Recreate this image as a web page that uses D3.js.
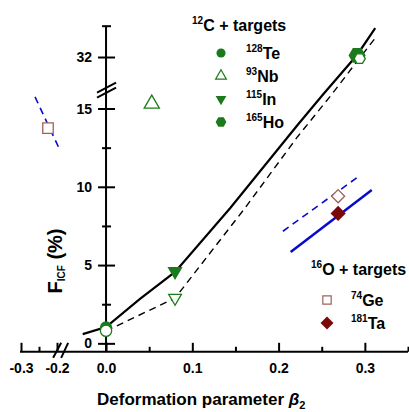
<!DOCTYPE html>
<html>
<head>
<meta charset="utf-8">
<script src="https://d3js.org/d3.v7.min.js"></script>
<style>
    body { margin: 0; background: white; }
    svg { display: block; font-family: "Liberation Sans", Arial, sans-serif; }
    text { font-weight: bold; fill: black; }
</style>
</head>
<body>
<svg width="409" height="412"></svg>
<script>
// 12C + targets (filled = one set, open = the other)
var c12Mass = ["128", "93", "115", "165"];
var c12Names = ["Te", "Nb", "In", "Ho"];
var c12Beta = [0.0, 0.053, 0.08, 0.291];
var c12F = [1.02, null, 4.6, 32.1];
var c12BetaOpen = [0.0, 0.053, 0.08, 0.294];
var c12FOpen = [0.8, 15.3, 2.9, 31.9];

// 16O + targets
var o16Mass = ["74", "181"];
var o16Names = ["Ge", "Ta"];
var o16Beta = [0.269, 0.269];
var o16F = [9.4, 8.3];
var geNegBeta = [-0.225];
var geNegF = [13.75];

// systematics curves
var solidBeta = [-0.027, 0.0, 0.039, 0.08, 0.144, 0.222, 0.251, 0.291, 0.312];
var solidF = [0.59, 1.04, 2.83, 4.56, 8.65, 13.95, 15.86, 32.13, 33.85];
var dashBeta = [0.0, 0.08, 0.161, 0.222, 0.261, 0.294, 0.313];
var dashF = [0.79, 2.89, 8.64, 13.2, 15.86, 31.94, 33.28];
var taLineBeta = [0.214, 0.308];
var taLineF = [5.83, 9.8];
var geLineBeta = [0.205, 0.292];
var geLineF = [7.16, 10.63];
var geNegLineBeta = [-0.261, -0.192];
var geNegLineF = [15.74, 12.35];

// ticks
var xMajor = [-0.3, -0.2, 0.0, 0.1, 0.2, 0.3];
var xMinor = [-0.25, 0.05, 0.15, 0.25, 0.35];
var yMajor = [0, 5, 10, 15, 32];
var yMinor = [2.5, 7.5, 12.5, 34];

var green = "#1b7a1b", brown = "#a0605a", darkRed = "#7a0808", blue = "#0a0acc";

var svg = d3.select("svg");

// broken axes: piecewise scales
var x = d3.scaleLinear().domain([-0.3, -0.185, -0.05, 0.35]).range([21, 62.4, 62.9, 408]);
var y = d3.scaleLinear().domain([-0.54, 16.1, 29.9, 34]).range([351.8, 91.3, 89.9, 25.7]);

var x0 = x(0), y0 = y(-0.54);

var symbolHex = {
    draw: function (ctx, size) {
        var r = Math.sqrt(size / (1.5 * Math.sqrt(3)));
        for (var i = 0; i < 6; i++) {
            var a = Math.PI / 3 * i;
            if (i === 0) ctx.moveTo(r * Math.cos(a), r * Math.sin(a));
            else ctx.lineTo(r * Math.cos(a), r * Math.sin(a));
        }
        ctx.closePath();
    }
};

function styleAxis (g) {
    g.select(".domain").remove();
    g.attr("font-size", 14)
        .attr("font-family", "Liberation Sans, Arial, sans-serif");
    g.selectAll("line").attr("stroke-width", 2);
}

// axis lines
svg.append("line").attr("x1", x(-0.3) - 1).attr("x2", x(0.35))
    .attr("y1", y0).attr("y2", y0).attr("stroke", "black").attr("stroke-width", 2);
svg.append("line").attr("x1", x0).attr("x2", x0)
    .attr("y1", y(34)).attr("y2", y0).attr("stroke", "black").attr("stroke-width", 2);

svg.append("g").attr("transform", "translate(0," + y0 + ")")
    .call(d3.axisBottom(x).tickValues(xMajor).tickSize(-9).tickPadding(11)
        .tickFormat(function (d) { return d.toFixed(1); }))
    .call(styleAxis);
svg.append("g").attr("transform", "translate(0," + y0 + ")")
    .call(d3.axisBottom(x).tickValues(xMinor).tickSize(-5).tickFormat(""))
    .call(styleAxis);

svg.append("g").attr("transform", "translate(" + x0 + ",0)")
    .call(d3.axisLeft(y).tickValues(yMajor).tickSize(8).tickPadding(6))
    .call(styleAxis);
svg.append("g").attr("transform", "translate(" + x0 + ",0)")
    .call(d3.axisRight(y).tickValues(yMajor).tickSize(9).tickFormat(""))
    .call(styleAxis);
svg.append("g").attr("transform", "translate(" + x0 + ",0)")
    .call(d3.axisLeft(y).tickValues(yMinor).tickSize(4).tickFormat(""))
    .call(styleAxis);
svg.append("g").attr("transform", "translate(" + x0 + ",0)")
    .call(d3.axisRight(y).tickValues(yMinor).tickSize(5).tickFormat(""))
    .call(styleAxis);

// break marks
var yb = (y(16.1) + y(29.9)) / 2;
var xb = (x(-0.185) + x(-0.05)) / 2 - 1.5;
var brk = svg.append("g").attr("stroke", "black").attr("stroke-width", 2);
[[-9, 7, 10, -3], [-9, 2, 10, -8]].forEach(function (s) {
    brk.append("line").attr("x1", x0 + s[0]).attr("y1", yb + s[1])
        .attr("x2", x0 + s[2]).attr("y2", yb + s[3]);
});
[[-8, 6, 0, -9], [0, 6, 7, -9]].forEach(function (s) {
    brk.append("line").attr("x1", xb + s[0]).attr("y1", y0 + s[1])
        .attr("x2", xb + s[2]).attr("y2", y0 + s[3]);
});

// curves
var line = d3.line().x(function (d) { return x(d[0]); }).y(function (d) { return y(d[1]); });

svg.append("path").datum(d3.zip(solidBeta, solidF)).attr("d", line)
    .attr("fill", "none").attr("stroke", "black").attr("stroke-width", 2.2);
svg.append("path").datum(d3.zip(dashBeta, dashF)).attr("d", line)
    .attr("fill", "none").attr("stroke", "black").attr("stroke-width", 1.4)
    .attr("stroke-dasharray", "7,5");
svg.append("path").datum(d3.zip(taLineBeta, taLineF)).attr("d", line)
    .attr("fill", "none").attr("stroke", blue).attr("stroke-width", 2.5);
svg.append("path").datum(d3.zip(geLineBeta, geLineF)).attr("d", line)
    .attr("fill", "none").attr("stroke", blue).attr("stroke-width", 1.6)
    .attr("stroke-dasharray", "7,5");
svg.append("path").datum(d3.zip(geNegLineBeta, geNegLineF)).attr("d", line)
    .attr("fill", "none").attr("stroke", blue).attr("stroke-width", 1.6)
    .attr("stroke-dasharray", "7,5");

// marker styles per target
var c12Sym = [d3.symbolCircle, d3.symbolTriangle, d3.symbolTriangle, symbolHex];
var c12Rot = [0, 0, 180, 0];
var c12Size = [115, 100, 100, 190];
var c12SizeOpen = [100, 100, 70, 80];
var c12LegSize = [65, 50, 50, 75];

// filled 12C points
svg.append("g").selectAll("path")
    .data(d3.range(c12Beta.length).filter(function (i) { return c12F[i] !== null; }))
    .join("path")
    .attr("d", function (i) { return d3.symbol().type(c12Sym[i]).size(c12Size[i])(); })
    .attr("transform", function (i) {
        return "translate(" + x(c12Beta[i]) + "," + y(c12F[i]) + ") rotate(" + c12Rot[i] + ")";
    })
    .attr("fill", green);

// open 12C points
svg.append("g").selectAll("path")
    .data(d3.range(c12BetaOpen.length))
    .join("path")
    .attr("d", function (i) { return d3.symbol().type(c12Sym[i]).size(c12SizeOpen[i])(); })
    .attr("transform", function (i) {
        return "translate(" + x(c12BetaOpen[i]) + "," + y(c12FOpen[i]) + ") rotate(" + c12Rot[i] + ")";
    })
    .attr("fill", "white").attr("stroke", green).attr("stroke-width", 1.3);

// 16O points
svg.append("path")
    .attr("d", d3.symbol().type(d3.symbolSquare).size(110)())
    .attr("transform", "translate(" + x(geNegBeta[0]) + "," + y(geNegF[0]) + ")")
    .attr("fill", "white").attr("stroke", brown).attr("stroke-width", 1.3);
svg.append("path")
    .attr("d", d3.symbol().type(d3.symbolSquare).size(85)())
    .attr("transform", "translate(" + x(o16Beta[0]) + "," + y(o16F[0]) + ") rotate(45)")
    .attr("fill", "white").attr("stroke", brown).attr("stroke-width", 1.3);
svg.append("path")
    .attr("d", d3.symbol().type(d3.symbolSquare).size(115)())
    .attr("transform", "translate(" + x(o16Beta[1]) + "," + y(o16F[1]) + ") rotate(45)")
    .attr("fill", darkRed);

// legend 12C
function isotope (g, px, py, mass, name, big, small) {
    var t = g.append("text").attr("x", px).attr("y", py);
    t.append("tspan").attr("font-size", small).attr("dy", -7).text(mass);
    t.append("tspan").attr("font-size", big).attr("dy", 7).text(name);
    return t;
}

var leg1 = svg.append("g");
isotope(leg1, 192, 31, "12", "C + targets", 16, 10);
c12Names.forEach(function (n, i) {
    var cy = 53 + i * 23;
    leg1.append("path")
        .attr("d", d3.symbol().type(c12Sym[i]).size(c12LegSize[i])())
        .attr("transform", "translate(221," + cy + ") rotate(" + c12Rot[i] + ")")
        .attr("fill", i === 1 ? "white" : green)
        .attr("stroke", i === 1 ? green : "none").attr("stroke-width", 1.2);
    isotope(leg1, 246, cy + 6, c12Mass[i], n, 16, 10);
});

// legend 16O
var leg2 = svg.append("g");
isotope(leg2, 311, 275, "16", "O + targets", 16, 10);
o16Names.forEach(function (n, i) {
    var cy = 300 + i * 23;
    leg2.append("path")
        .attr("d", d3.symbol().type(d3.symbolSquare).size(i === 0 ? 70 : 85)())
        .attr("transform", "translate(327," + cy + ") rotate(" + (i === 0 ? 0 : 45) + ")")
        .attr("fill", i === 0 ? "white" : darkRed)
        .attr("stroke", i === 0 ? brown : "none").attr("stroke-width", 1.2);
    isotope(leg2, 351, cy + 6, o16Mass[i], n, 16, 10);
});

// axis titles
var xt = svg.append("text").attr("x", 97).attr("y", 405).attr("font-size", 17);
xt.append("tspan").text("Deformation parameter ");
xt.append("tspan").attr("font-style", "italic").text("β");
xt.append("tspan").attr("font-size", 11).attr("dy", 4).text("2");

var yt = svg.append("text").attr("transform", "translate(62,261) rotate(-90)")
    .attr("text-anchor", "middle").attr("font-size", 20);
yt.append("tspan").text("F");
yt.append("tspan").attr("font-size", 10).attr("dy", 3).text("ICF");
yt.append("tspan").attr("dy", -3).text(" (%)");
</script>
</body>
</html>
